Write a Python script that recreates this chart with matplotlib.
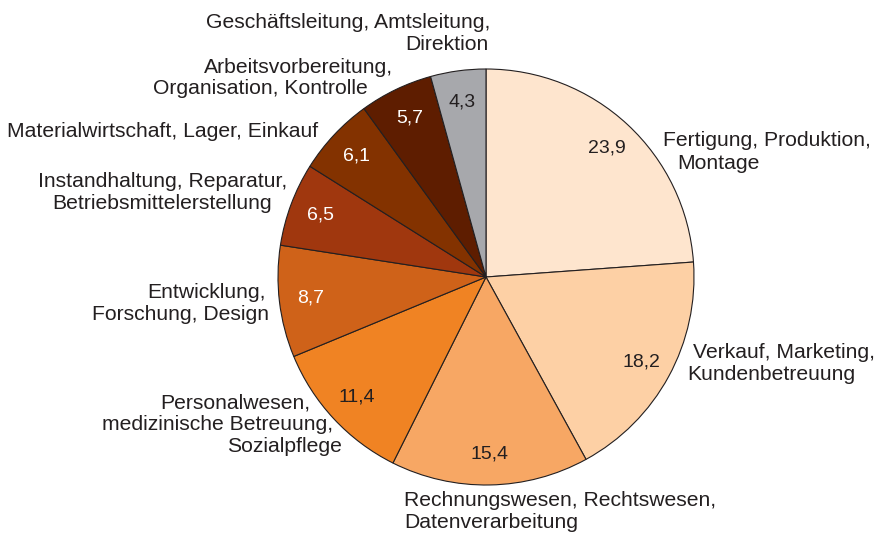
import numpy as np
import matplotlib.pyplot as plt

# Anteile der Beschäftigten nach Tätigkeitsbereichen (%)
bereiche = [
    "Fertigung, Produktion, Montage",
    "Verkauf, Marketing, Kundenbetreuung",
    "Rechnungswesen, Rechtswesen, Datenverarbeitung",
    "Personalwesen, medizinische Betreuung, Sozialpflege",
    "Entwicklung, Forschung, Design",
    "Instandhaltung, Reparatur, Betriebsmittelerstellung",
    "Materialwirtschaft, Lager, Einkauf",
    "Arbeitsvorbereitung, Organisation, Kontrolle",
    "Geschäftsleitung, Amtsleitung, Direktion",
]
anteile = [23.9, 18.2, 15.4, 11.4, 8.7, 6.5, 6.1, 5.7, 4.3]

farben = ["#FEE5CE", "#FDD0A5", "#F7A764", "#F08323", "#CF6219",
          "#A0370E", "#833200", "#5E1D00", "#A7A8AC"]
zahlfarben = ["#231f20", "#231f20", "#231f20", "#231f20", "white",
              "white", "white", "white", "#231f20"]

# Beschriftungszeilen: (Text, x, y von oben, Ausrichtung) in Pixeln
zeilen = [
    [("Fertigung, Produktion,", 663, 140, "left"), ("Montage", 677, 163, "left")],
    [("Verkauf, Marketing,", 693, 352, "left"), ("Kundenbetreuung", 687, 375, "left")],
    [("Rechnungswesen, Rechtswesen,", 404, 501, "left"), ("Datenverarbeitung", 404, 523, "left")],
    [("Personalwesen,", 310, 403, "right"), ("medizinische Betreuung,", 333, 425, "right"),
     ("Sozialpflege", 342, 447, "right")],
    [("Entwicklung,", 266, 292, "right"), ("Forschung, Design", 269, 314, "right")],
    [("Instandhaltung, Reparatur,", 287, 181, "right"), ("Betriebsmittelerstellung", 272, 203, "right")],
    [("Materialwirtschaft, Lager, Einkauf", 318, 131, "right")],
    [("Arbeitsvorbereitung,", 393, 67, "right"), ("Organisation, Kontrolle", 368, 88, "right")],
    [("Geschäftsleitung, Amtsleitung,", 490, 22, "right"), ("Direktion", 489, 44, "right")],
]

W, H = 878, 535
cx, cy, r = 486, H - 277, 208

plt.rcParams['font.family'] = ['Liberation Sans', 'DejaVu Sans']

fig = plt.figure(figsize=(W / 100, H / 100), dpi=100)
ax = fig.add_axes([0, 0, 1, 1])

wedges, _ = ax.pie(anteile, colors=farben, startangle=90, counterclock=False,
                   center=(cx, cy), radius=r,
                   wedgeprops=dict(edgecolor="#231f20", linewidth=0.8))

# Zahlenwerte in den Segmenten
for w, v, fc in zip(wedges, anteile, zahlfarben):
    mitte = np.deg2rad((w.theta1 + w.theta2) / 2)
    ax.text(cx + 0.85 * r * np.cos(mitte), cy + 0.85 * r * np.sin(mitte),
            f"{v:.1f}".replace(".", ","), ha="center", va="center",
            fontsize=14, color=fc)

# Kategorienbeschriftungen
for block in zeilen:
    for txt, x, y, ha in block:
        ax.text(x, H - y, txt, ha=ha, va="center", fontsize=15.2, color="#231f20")

ax.set_xlim(0, W)
ax.set_ylim(0, H)
ax.set_aspect("equal")
ax.axis("off")

plt.savefig("out.png", dpi=100)
